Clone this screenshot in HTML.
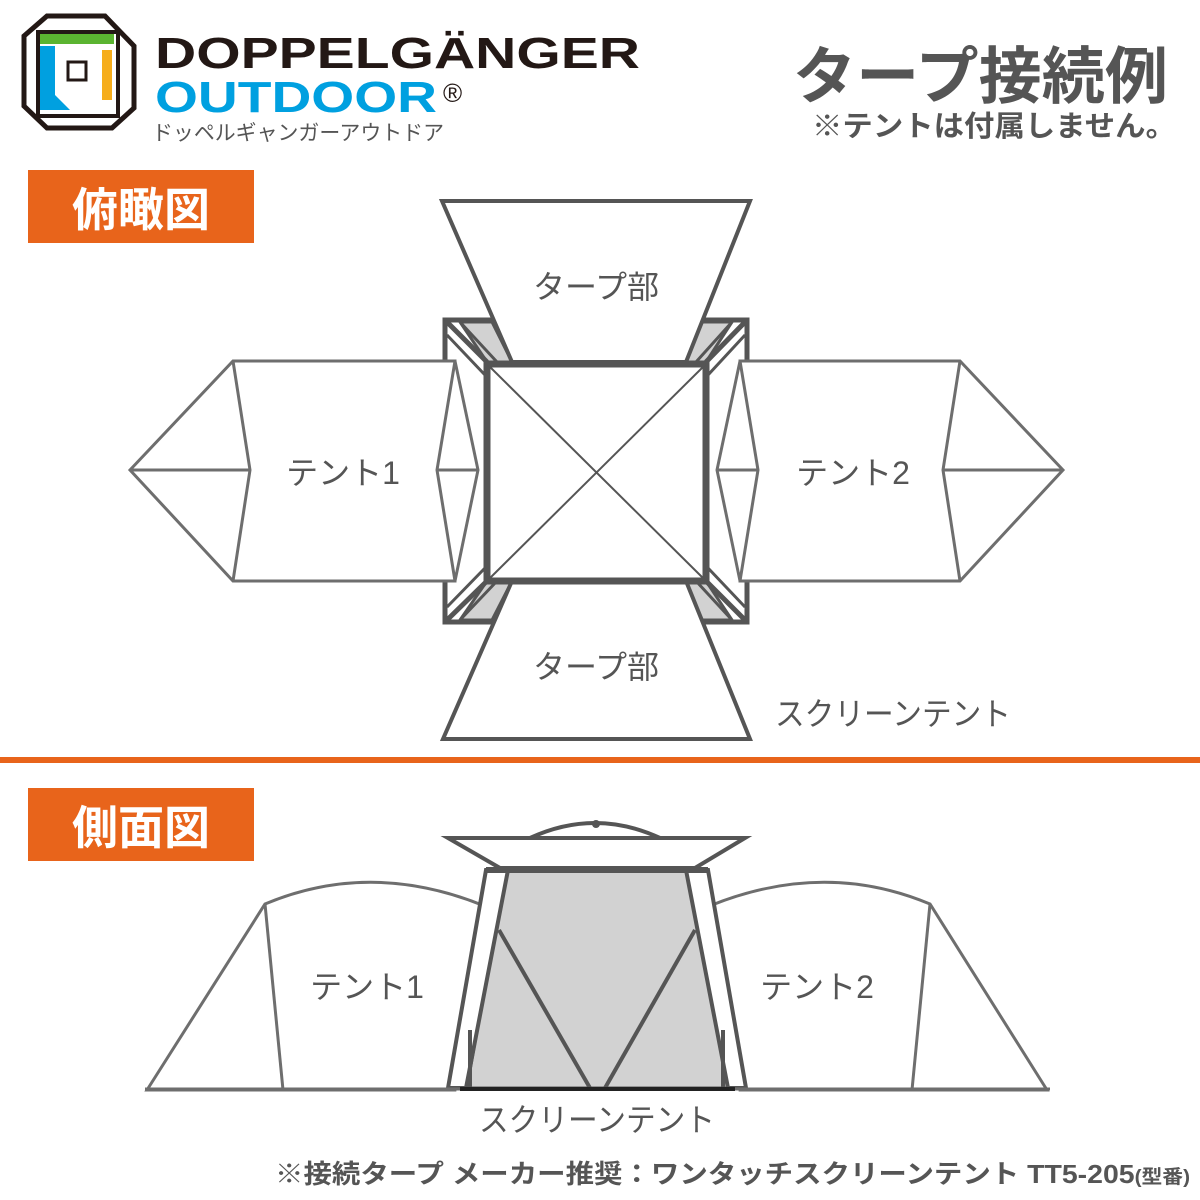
<!DOCTYPE html>
<html><head><meta charset="utf-8"><style>
body{margin:0;background:#fff;}
svg{display:block;}
text{font-family:"Liberation Sans","Noto Sans CJK JP",sans-serif;}
</style></head><body>
<svg width="1200" height="1200" viewBox="0 0 1200 1200" xmlns="http://www.w3.org/2000/svg">
<!-- logo -->
<polygon points="24,36 47,16 105,16 134,46 134,108 112,128 47,128 24,106" fill="#fff" stroke="#231815" stroke-width="5"/>
<rect x="38" y="32" width="80" height="84" fill="#fff" stroke="#231815" stroke-width="4"/>
<rect x="40" y="34" width="74" height="10" fill="#5bb431"/>
<polygon points="40,46 55,46 55,95 70,110 100,110 40,110" fill="#00a0e0"/>
<rect x="102" y="50" width="10" height="50" fill="#f6ad1b"/>
<rect x="68" y="62" width="18" height="18" fill="#fff" stroke="#231815" stroke-width="3"/>
<text x="155" y="68" font-size="44" font-weight="bold" fill="#231815" textLength="485" lengthAdjust="spacingAndGlyphs">DOPPELGÄNGER</text>
<text x="155" y="112" font-size="44" font-weight="bold" fill="#00a0e0" textLength="282" lengthAdjust="spacingAndGlyphs">OUTDOOR</text>
<text x="443" y="102" font-size="26" fill="#231815">®</text>
<text x="152" y="140" font-size="21" fill="#555" textLength="292" lengthAdjust="spacingAndGlyphs">ドッペルギャンガーアウトドア</text>
<!-- title -->
<text x="793" y="98" font-size="62" font-weight="bold" fill="#555" textLength="375" lengthAdjust="spacingAndGlyphs">タープ接続例</text>
<text x="812" y="136" font-size="29" font-weight="bold" fill="#555" textLength="364" lengthAdjust="spacingAndGlyphs">※テントは付属しません。</text>
<!-- labels -->
<rect x="28" y="170" width="226" height="73" fill="#e8641b"/>
<text x="141" y="226" font-size="46" font-weight="bold" fill="#fff" text-anchor="middle">俯瞰図</text>
<rect x="0" y="757" width="1200" height="6" fill="#e8641b"/>
<rect x="28" y="788" width="226" height="73" fill="#e8641b"/>
<text x="141" y="844" font-size="46" font-weight="bold" fill="#fff" text-anchor="middle">側面図</text>

<g stroke-linejoin="miter" fill="none">
<!-- corner frame -->
<g stroke="#555" stroke-width="5">
<rect x="445" y="320" width="302" height="302" fill="#fff"/>
<polygon points="460,322 492,322 512,362 487,362" fill="#d2d2d2" stroke-width="3"/>
<polygon points="732,322 700,322 684,362 706,362" fill="#d2d2d2" stroke-width="3"/>
<polygon points="460,620 492,620 512,581 487,581" fill="#d2d2d2" stroke-width="3"/>
<polygon points="732,620 700,620 684,581 706,581" fill="#d2d2d2" stroke-width="3"/>
<line x1="445" y1="320" x2="487" y2="362"/><line x1="747" y1="320" x2="706" y2="362"/>
<line x1="445" y1="622" x2="487" y2="581"/><line x1="747" y1="622" x2="706" y2="581"/>
<line x1="447" y1="335" x2="485" y2="375" stroke-width="3"/><line x1="460" y1="322" x2="497" y2="362" stroke-width="3"/>
<line x1="745" y1="335" x2="708" y2="375" stroke-width="3"/><line x1="732" y1="322" x2="696" y2="362" stroke-width="3"/>
<line x1="447" y1="607" x2="485" y2="568" stroke-width="3"/><line x1="460" y1="620" x2="497" y2="581" stroke-width="3"/>
<line x1="745" y1="607" x2="708" y2="568" stroke-width="3"/><line x1="732" y1="620" x2="696" y2="581" stroke-width="3"/>
</g>
<!-- top view tents -->
<g stroke="#6e6e6e" stroke-width="3" fill="#fff">
<polygon points="130,470 233,361 455,361 455,581 233,581"/>
<polyline points="233,361 250,470 233,581" fill="none"/>
<line x1="130" y1="470" x2="250" y2="470"/>
<polygon points="455,361 478,470 455,581 437,470"/>
<line x1="437" y1="470" x2="478" y2="470"/>
<polygon points="1063,470 960,361 740,361 740,581 960,581"/>
<polyline points="960,361 943,470 960,581" fill="none"/>
<line x1="1063" y1="470" x2="943" y2="470"/>
<polygon points="740,361 717,470 740,581 758,470"/>
<line x1="717" y1="470" x2="758" y2="470"/>
</g>
<!-- tarps -->
<g stroke="#555" stroke-width="4" fill="#fff">
<polygon points="442,201 750,201 686,362 512,362"/>
<polygon points="443,739 750,739 686,581 512,581"/>
</g>
<rect x="487" y="364" width="219" height="217" fill="#fff" stroke="#555" stroke-width="7"/>
<line x1="487" y1="364" x2="706" y2="581" stroke="#555" stroke-width="2"/>
<line x1="706" y1="364" x2="487" y2="581" stroke="#555" stroke-width="2"/>

<!-- side view -->
<g stroke="#6e6e6e" stroke-width="3" fill="#fff">
<path d="M147,1090 L265,904 Q370,860 482,905 L455,1090 Z"/>
<line x1="265" y1="904" x2="283" y2="1090"/>
<path d="M1047,1090 L930,904 Q825,860 712,905 L740,1090 Z"/>
<line x1="930" y1="904" x2="912" y2="1090"/>
</g>
<path d="M530,838 Q595,808 660,838" stroke="#555" stroke-width="4" fill="none"/>
<circle cx="596" cy="824" r="4" fill="#555"/>
<polygon points="505,870 690,870 728,1088 467,1088" fill="#d2d2d2" stroke="#555" stroke-width="3"/>
<g stroke="#555" stroke-width="4">
<polygon points="486,870 508,870 466,1088 448,1088" fill="#fff"/>
<polygon points="708,870 686,870 728,1088 746,1088" fill="#fff"/>
<line x1="499" y1="930" x2="590" y2="1088"/>
<line x1="695" y1="930" x2="605" y2="1088"/>
<line x1="470" y1="1030" x2="470" y2="1088"/>
<line x1="723" y1="1030" x2="723" y2="1088"/>
</g>
<polygon points="448,838 745,838 695,868 500,868" fill="#fff" stroke="#555" stroke-width="4"/>
<line x1="486" y1="870" x2="708" y2="870" stroke="#555" stroke-width="6"/>
<line x1="145" y1="1089" x2="1050" y2="1089" stroke="#6e6e6e" stroke-width="3"/>
<line x1="460" y1="1089" x2="735" y2="1089" stroke="#222" stroke-width="4"/>
</g>

<g fill="#555" font-size="32">
<text x="596" y="298" text-anchor="middle">タープ部</text>
<text x="596" y="678" text-anchor="middle">タープ部</text>
<text x="343" y="484" text-anchor="middle">テント1</text>
<text x="853" y="484" text-anchor="middle">テント2</text>
<text x="893" y="725" text-anchor="middle" textLength="236" lengthAdjust="spacingAndGlyphs">スクリーンテント</text>
<text x="367" y="998" text-anchor="middle">テント1</text>
<text x="817" y="998" text-anchor="middle">テント2</text>
<text x="597" y="1131" text-anchor="middle" textLength="236" lengthAdjust="spacingAndGlyphs">スクリーンテント</text>
</g>
<text x="275" y="1183" font-size="26" font-weight="bold" fill="#555" textLength="915" lengthAdjust="spacingAndGlyphs">※接続タープ メーカー推奨：ワンタッチスクリーンテント TT5-205<tspan font-size="19">(型番)</tspan></text>
</svg>
</body></html>
